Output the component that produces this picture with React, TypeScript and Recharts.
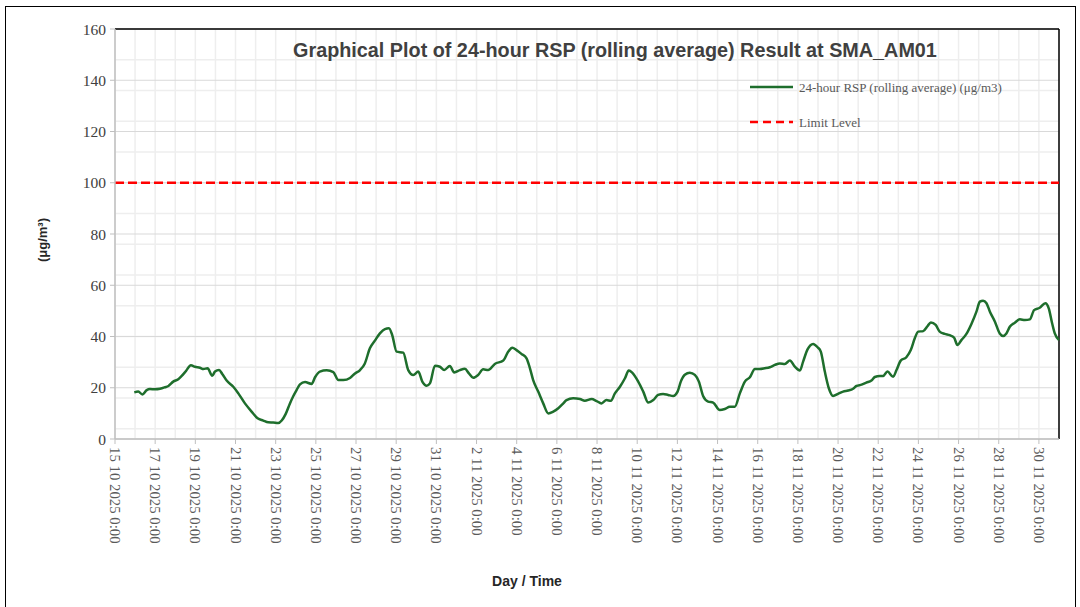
import { CartesianGrid, Line, LineChart, ReferenceLine, XAxis, YAxis } from 'recharts'

// days since 15 Oct 2025 0:00
const days = [
  0.96, 1.16, 1.36, 1.58, 1.74, 1.99, 2.24, 2.49, 2.66, 2.9, 3.15, 3.32, 3.53, 3.78, 3.98, 4.23, 4.4, 4.61, 4.84, 4.98,
  5.18, 5.34, 5.56, 5.89, 6.14, 6.47, 6.8, 7.1, 7.38, 7.63, 7.88, 8.13, 8.3, 8.5, 8.71, 8.88, 9.04, 9.21, 9.46, 9.79,
  9.96, 10.2, 10.54, 10.87, 11.12, 11.37, 11.7, 11.95, 12.2, 12.44, 12.69, 12.94, 13.19, 13.44, 13.64, 13.8, 14.02, 14.35, 14.6, 14.85,
  15.1, 15.3, 15.52, 15.68, 15.93, 16.18, 16.39, 16.67, 16.89, 17.17, 17.42, 17.62, 17.83, 18.08, 18.33, 18.58, 18.91, 19.33, 19.58, 19.78,
  19.99, 20.24, 20.49, 20.66, 20.82, 21.07, 21.32, 21.57, 21.82, 22.07, 22.32, 22.48, 22.81, 23.15, 23.39, 23.73, 23.98, 24.22, 24.47, 24.69,
  24.89, 25.14, 25.39, 25.58, 25.75, 26.05, 26.3, 26.55, 26.8, 27.04, 27.29, 27.54, 27.79, 28.01, 28.17, 28.37, 28.62, 28.87, 29.07, 29.28,
  29.53, 29.78, 30.11, 30.36, 30.61, 30.86, 31.11, 31.36, 31.61, 31.86, 32.1, 32.35, 32.6, 32.85, 33.1, 33.35, 33.6, 33.85, 34.1, 34.26,
  34.48, 34.76, 34.98, 35.14, 35.34, 35.54, 35.75, 36.0, 36.25, 36.5, 36.75, 36.92, 37.17, 37.41, 37.66, 37.83, 38.08, 38.24, 38.46, 38.74,
  38.91, 39.12, 39.4, 39.62, 39.82, 39.99, 40.24, 40.46, 40.62, 40.86, 41.06, 41.31, 41.56, 41.78, 41.94, 42.14, 42.39, 42.64, 42.89, 43.06,
  43.22, 43.39, 43.56, 43.81, 44.05, 44.22, 44.38, 44.55, 44.8, 45.05, 45.3, 45.55, 45.76, 46.04, 46.32, 46.49, 46.66, 46.79, 47.0,
]

const rsp = [
  18.2, 18.5, 17.4, 19.1, 19.5, 19.4, 19.6, 20.2, 20.7, 22.4, 23.3, 24.6, 26.5, 28.8, 28.2, 27.8, 27.3, 27.6, 24.7, 26.3,
  26.9, 25.4, 22.8, 20.4, 17.8, 13.9, 10.7, 8.1, 7.2, 6.5, 6.4, 6.2, 7.2, 9.8, 13.9, 16.8, 19.1, 21.3, 22.2, 21.5,
  24.1, 26.3, 26.8, 26.1, 23.0, 23.0, 23.8, 25.6, 26.9, 29.5, 35.4, 38.4, 41.2, 42.9, 43.2, 40.6, 34.1, 33.7, 26.9, 25.0,
  26.3, 22.4, 20.8, 21.7, 28.6, 28.2, 26.9, 28.5, 26.0, 26.9, 27.4, 25.6, 23.9, 25.0, 27.2, 26.9, 29.3, 30.6, 34.1, 35.6,
  34.7, 33.2, 31.5, 27.6, 23.0, 18.5, 13.9, 10.0, 10.7, 12.0, 13.9, 15.2, 15.9, 15.6, 14.9, 15.6, 14.8, 13.9, 15.2, 14.9,
  17.8, 20.4, 23.7, 26.7, 25.9, 22.4, 18.5, 14.2, 15.2, 17.2, 17.6, 17.2, 16.8, 18.5, 22.4, 25.1, 25.9, 25.0, 22.4, 16.8,
  14.6, 14.2, 11.3, 11.7, 12.6, 12.6, 17.8, 22.4, 24.1, 27.3, 27.3, 27.6, 28.0, 28.9, 29.5, 29.3, 30.6, 28.2, 26.7, 30.2,
  35.0, 37.1, 35.8, 34.1, 26.3, 19.8, 16.8, 17.6, 18.5, 18.9, 19.6, 20.7, 21.2, 22.0, 22.8, 24.2, 24.6, 24.6, 26.3, 24.3,
  26.9, 30.6, 31.9, 34.7, 39.3, 41.9, 42.1, 44.1, 45.5, 44.5, 41.9, 41.0, 40.5, 39.5, 36.7, 38.6, 41.0, 44.9, 49.7, 53.6,
  54.0, 53.0, 49.7, 45.8, 41.2, 40.2, 41.2, 43.8, 45.4, 46.7, 46.4, 46.7, 50.3, 51.2, 53.0, 51.0, 45.1, 41.2, 38.6,
]

const LIMIT = 100
const xTicks = [0, 2, 4, 6, 8, 10, 12, 14, 16, 18, 20, 22, 24, 26, 28, 30, 32, 34, 36, 38, 40, 42, 44, 46]
const yTicks = [0, 20, 40, 60, 80, 100, 120, 140, 160]

const data = days.map((d, i) => ({ day: d, rsp: rsp[i] }))
const minorY = Array.from({ length: 41 }, (_, i) => i * 4)
const minorX = Array.from({ length: 48 }, (_, i) => i)

function dayLabel(d: number) {
  const dt = new Date(2025, 9, 15 + d)
  return `${dt.getDate()} ${dt.getMonth() + 1} 2025 0:00`
}

function XTick(props: any) {
  const { x, y, payload } = props
  return (
    <text
      transform={`translate(${x},${y + 1}) rotate(90)`}
      textAnchor="start"
      dominantBaseline="central"
      fontFamily="'Liberation Serif', serif"
      fontSize={14.8}
      fill="#595959"
    >
      {dayLabel(payload.value)}
    </text>
  )
}

function LegendBox() {
  const txt = { fontFamily: "'Liberation Serif', serif", fontSize: 13, fill: '#595959' }
  return (
    <svg width={320} height={60} style={{ position: 'absolute', left: 745, top: 77 }}>
      <line x1={5} y1={10} x2={48} y2={10} stroke="#1e6e2c" strokeWidth={2.5} />
      <text x={54} y={10} dominantBaseline="central" {...txt}>24-hour RSP (rolling average) (μg/m3)</text>
      <line x1={5} y1={45} x2={48} y2={45} stroke="#ff0000" strokeWidth={2.5} strokeDasharray="8 5" />
      <text x={54} y={45} dominantBaseline="central" {...txt}>Limit Level</text>
    </svg>
  )
}

export default function App() {
  return (
    <div style={{ position: 'absolute', left: 0, top: 0, width: 1080, height: 607, background: '#fff', overflow: 'hidden' }}>
      <div style={{ position: 'absolute', left: 5, top: 6, width: 1069, height: 620, border: '1.5px solid #000' }} />
      <LineChart width={1080} height={607} data={data} margin={{ top: 29, right: 21, bottom: 0, left: 0 }}>
        <CartesianGrid horizontalValues={minorY} verticalValues={minorX} stroke="#eeeeee" strokeWidth={1.5} />
        <CartesianGrid horizontalValues={yTicks} vertical={false} stroke="#d9d9d9" strokeWidth={1.2} />
        <XAxis
          dataKey="day"
          type="number"
          domain={[0, 47]}
          ticks={xTicks}
          interval={0}
          height={168}
          tickSize={5}
          tick={<XTick />}
          axisLine={{ stroke: '#bfbfbf', strokeWidth: 1.5 }}
          tickLine={{ stroke: '#bfbfbf' }}
        />
        <YAxis
          type="number"
          domain={[0, 160]}
          ticks={yTicks}
          width={115}
          tickSize={5}
          tickMargin={4}
          tick={{ fontFamily: "'Liberation Serif', serif", fontSize: 15.5, fill: '#404040' }}
          axisLine={{ stroke: '#bfbfbf', strokeWidth: 1.5 }}
          tickLine={{ stroke: '#bfbfbf' }}
        />
        <ReferenceLine y={160} stroke="#000" strokeWidth={1.5} />
        <ReferenceLine x={47} stroke="#000" strokeWidth={1.5} />
        <ReferenceLine y={LIMIT} stroke="#ff0000" strokeWidth={2.5} strokeDasharray="9 4" />
        <Line
          type="monotone"
          dataKey="rsp"
          stroke="#1e6e2c"
          strokeWidth={2.5}
          dot={false}
          isAnimationActive={false}
        />
      </LineChart>
      <LegendBox />
      <div
        style={{
          position: 'absolute', left: 215, width: 800, top: 39, textAlign: 'center',
          fontFamily: "'Liberation Sans', Arial, sans-serif", fontWeight: 'bold', fontSize: 19.8, color: '#404040',
        }}
      >
        Graphical Plot of 24-hour RSP (rolling average) Result at SMA_AM01
      </div>
      <div
        style={{
          position: 'absolute', left: 42, top: 240, transform: 'translate(-50%,-50%) rotate(-90deg)', whiteSpace: 'nowrap',
          fontFamily: "'Liberation Sans', Arial, sans-serif", fontWeight: 'bold', fontSize: 13, color: '#262626',
        }}
      >
        (μg/m³)
      </div>
      <div
        style={{
          position: 'absolute', left: 527, top: 581, transform: 'translate(-50%,-50%)', whiteSpace: 'nowrap',
          fontFamily: "'Liberation Sans', Arial, sans-serif", fontWeight: 'bold', fontSize: 14, color: '#262626',
        }}
      >
        Day / Time
      </div>
    </div>
  )
}
